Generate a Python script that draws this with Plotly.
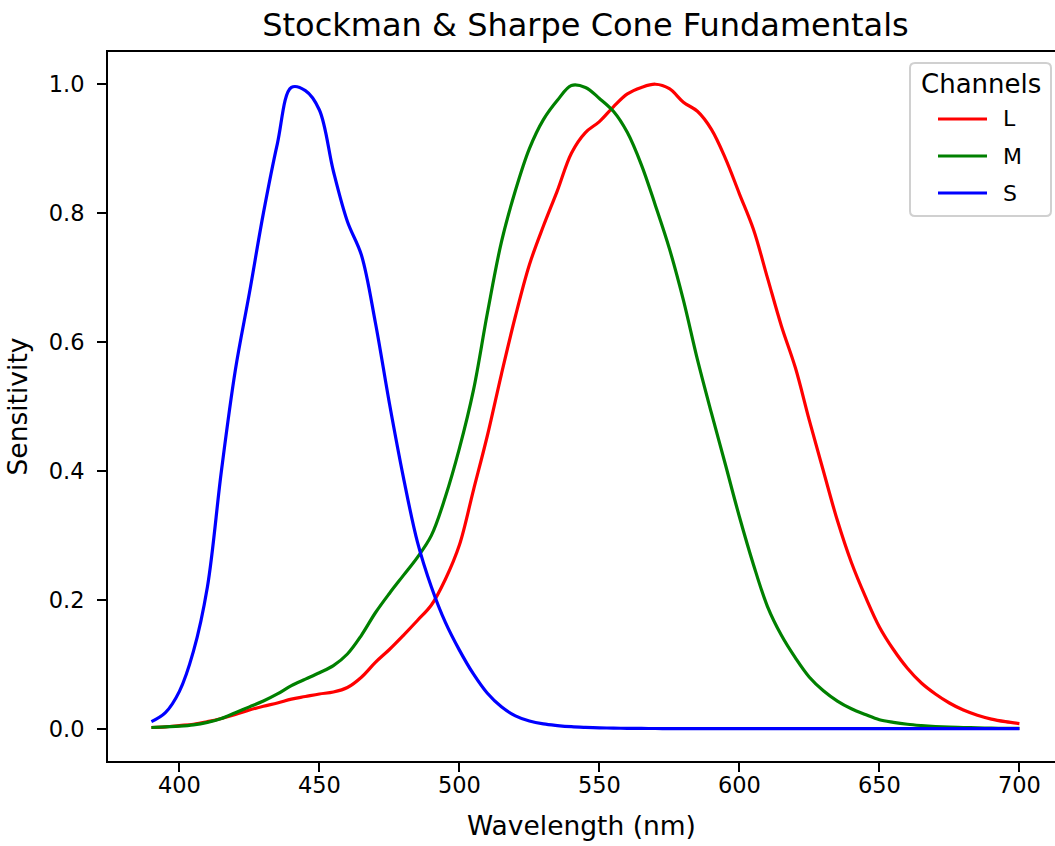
import plotly.graph_objects as go

wavelength = list(range(390, 701, 5))

L = [0.002, 0.003, 0.005, 0.007, 0.011, 0.016, 0.022, 0.029, 0.035, 0.040,
     0.046, 0.050, 0.054, 0.057, 0.064, 0.080, 0.103, 0.123, 0.145, 0.168,
     0.192, 0.232, 0.285, 0.370, 0.455, 0.550, 0.640, 0.720, 0.780, 0.835,
     0.893, 0.925, 0.942, 0.965, 0.985, 0.995, 1.000, 0.993, 0.972, 0.958,
     0.930, 0.885, 0.830, 0.775, 0.700, 0.625, 0.560, 0.478, 0.400, 0.323,
     0.258, 0.205, 0.158, 0.123, 0.094, 0.071, 0.054, 0.040, 0.029, 0.021,
     0.015, 0.011, 0.008]

M = [0.002, 0.003, 0.004, 0.006, 0.010, 0.016, 0.025, 0.034, 0.043, 0.054,
     0.067, 0.077, 0.087, 0.098, 0.116, 0.145, 0.180, 0.210, 0.238, 0.266,
     0.300, 0.360, 0.435, 0.525, 0.645, 0.755, 0.835, 0.900, 0.945, 0.975,
     0.998, 0.995, 0.978, 0.958, 0.925, 0.875, 0.812, 0.745, 0.665, 0.573,
     0.490, 0.410, 0.329, 0.255, 0.190, 0.145, 0.110, 0.080, 0.059, 0.043,
     0.031, 0.022, 0.014, 0.010, 0.007, 0.005, 0.0035, 0.0025, 0.002, 0.0014,
     0.001, 0.0007, 0.0005]

S = [0.011, 0.025, 0.058, 0.120, 0.220, 0.400, 0.557, 0.676, 0.800, 0.908,
     0.995, 0.990, 0.960, 0.865, 0.787, 0.735, 0.630, 0.505, 0.390, 0.290,
     0.220, 0.165, 0.122, 0.085, 0.055, 0.034, 0.020, 0.012, 0.0075, 0.005,
     0.0032, 0.0022, 0.0015, 0.001, 0.0007, 0.0005, 0.0004, 0.0003, 0.00025, 0.0002,
     0.00015, 0.0001, 0.0001, 0.0001, 0.0001, 0.0001, 0.0001, 0.0001, 0.0001, 0.0001,
     0.0001, 0.0001, 0.0001, 0.0001, 0.0001, 0.0001, 0.0001, 0.0001, 0.0001, 0.0001,
     0.0001, 0.0001, 0.0001]

series_names = ["L", "M", "S"]
series_values = [L, M, S]
series_colors = ["red", "green", "blue"]
x_ticks = [400, 450, 500, 550, 600, 650, 700]
y_ticks = [0.0, 0.2, 0.4, 0.6, 0.8, 1.0]
y_ticktext = ["0.0", "0.2", "0.4", "0.6", "0.8", "1.0"]

FONT = "DejaVu Sans"
LW = 3.2

fig = go.Figure()
for name, vals, col in zip(series_names, series_values, series_colors):
    fig.add_trace(go.Scatter(
        x=wavelength, y=vals, mode="lines", name=name,
        line=dict(color=col, width=LW, shape="spline", smoothing=1.0),
        showlegend=False,
    ))

# body margin is removed in post_script, so the figure starts at the page corner
OFF = 0
W, H = 1055 - OFF, 846 - OFF
ml, mr, mt, mb = 108 - OFF, 0, 52 - OFF, 85
plotw = W - ml - mr
ploth = H - mt - mb
px_per_nm = 2.8
x0 = 374.5
x1 = x0 + plotw / px_per_nm


def px(xp):  # page pixel -> paper x
    return (xp - OFF - ml) / plotw


def py(yp):  # page pixel -> paper y
    return (H - mb - (yp - OFF)) / ploth


# legend box (drawn manually to match the reference styling)
bx0, bx1, by0, by1 = px(910), px(1051), py(216), py(63)
rx, ry = 5 / plotw, 5 / ploth
path = (f"M{bx0+rx},{by0} L{bx1-rx},{by0} Q{bx1},{by0} {bx1},{by0+ry} "
        f"L{bx1},{by1-ry} Q{bx1},{by1} {bx1-rx},{by1} L{bx0+rx},{by1} "
        f"Q{bx0},{by1} {bx0},{by1-ry} L{bx0},{by0+ry} Q{bx0},{by0} {bx0+rx},{by0} Z")
shapes = [dict(type="path", path=path, xref="paper", yref="paper",
               fillcolor="rgba(255,255,255,0.8)", line=dict(color="#d0d0d0", width=2),
               layer="above")]
annotations = [dict(text="Channels", x=px(980.5), y=py(84), xref="paper", yref="paper",
                    xanchor="center", yanchor="middle", showarrow=False,
                    font=dict(family=FONT, size=26, color="black"))]
entry_y = [119, 156, 193]
for name, col, ey in zip(series_names, series_colors, entry_y):
    shapes.append(dict(type="line", xref="paper", yref="paper",
                       x0=px(938), x1=px(987), y0=py(ey), y1=py(ey),
                       line=dict(color=col, width=LW), layer="above"))
    annotations.append(dict(text=name, x=px(1001), y=py(ey), xref="paper", yref="paper",
                            xanchor="left", yanchor="middle", showarrow=False,
                            font=dict(family=FONT, size=22, color="black")))

fig.update_layout(
    width=W, height=H,
    margin=dict(l=ml, r=mr, t=mt, b=mb, pad=0),
    paper_bgcolor="white", plot_bgcolor="white",
    font=dict(family=FONT, color="black"),
    showlegend=False,
    title=dict(text="Stockman & Sharpe Cone Fundamentals",
               font=dict(family=FONT, size=32, color="black"),
               x=(585.5 - OFF) / W, xanchor="center",
               y=1 - (25 - OFF) / H, yanchor="middle", xref="container", yref="container"),
    xaxis=dict(range=[x0, x1], tickvals=x_ticks,
               ticks="outside", ticklen=9, tickwidth=2, tickcolor="black",
               showline=True, linewidth=2, linecolor="black", mirror=True,
               showgrid=False, zeroline=False, ticklabelstandoff=-6,
               tickfont=dict(family=FONT, size=22.5, color="black"),
               title=dict(text="Wavelength (nm)", font=dict(family=FONT, size=26.5, color="black"),
                          standoff=19)),
    yaxis=dict(range=[-0.05, 1.05], tickvals=y_ticks, ticktext=y_ticktext,
               ticks="outside", ticklen=9, tickwidth=2, tickcolor="black",
               showline=True, linewidth=2, linecolor="black", mirror=False,
               showgrid=False, zeroline=False, ticklabelstandoff=8,
               tickfont=dict(family=FONT, size=22.5, color="black"),
               title=dict(text="Sensitivity", font=dict(family=FONT, size=26.5, color="black"),
                          standoff=13)),
    shapes=shapes,
    annotations=annotations,
)

fig.write_html("out.html",
               config={"displayModeBar": False},
               post_script="document.body.style.margin='0px';document.body.style.overflow='hidden';")
